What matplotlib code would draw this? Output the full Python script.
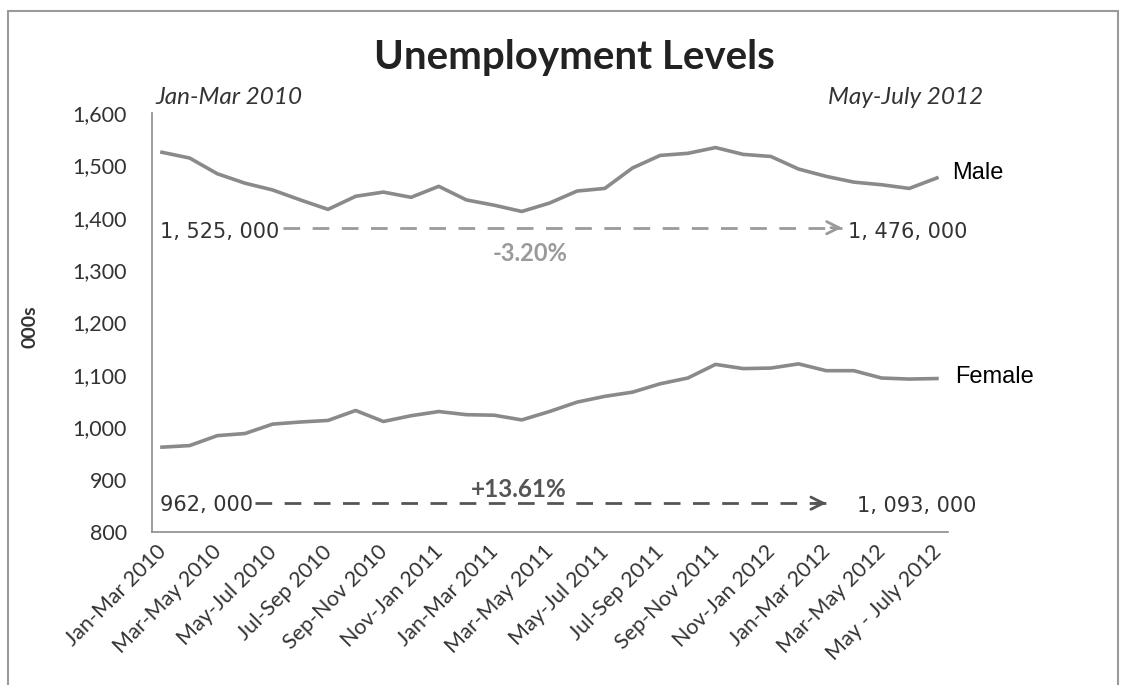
import matplotlib
matplotlib.use("Agg")
import matplotlib.pyplot as plt
import matplotlib.transforms as mtransforms
from matplotlib.patches import Rectangle

# ---------------------------------------------------------------------------
# Data: rolling three-month unemployment levels (thousands)
# ---------------------------------------------------------------------------
periods = [
    "Jan-Mar 2010", "Feb-Apr 2010", "Mar-May 2010", "Apr-Jun 2010",
    "May-Jul 2010", "Jun-Aug 2010", "Jul-Sep 2010", "Aug-Oct 2010",
    "Sep-Nov 2010", "Oct-Dec 2010", "Nov-Jan 2011", "Dec-Feb 2011",
    "Jan-Mar 2011", "Feb-Apr 2011", "Mar-May 2011", "Apr-Jun 2011",
    "May-Jul 2011", "Jun-Aug 2011", "Jul-Sep 2011", "Aug-Oct 2011",
    "Sep-Nov 2011", "Oct-Dec 2011", "Nov-Jan 2012", "Dec-Feb 2012",
    "Jan-Mar 2012", "Feb-Apr 2012", "Mar-May 2012", "Apr-Jun 2012",
    "May - July 2012",
]
male = [1525, 1514, 1484, 1466, 1453, 1434, 1416, 1441, 1449, 1439,
        1460, 1434, 1424, 1412, 1428, 1451, 1456, 1495, 1519, 1523,
        1534, 1521, 1517, 1493, 1479, 1468, 1463, 1456, 1476]
female = [962, 965, 984, 988, 1006, 1010, 1013, 1032, 1011, 1022,
          1030, 1024, 1023, 1014, 1030, 1048, 1059, 1067, 1083, 1094,
          1120, 1112, 1113, 1121, 1108, 1108, 1094, 1092, 1093]
y_ticks = [800, 900, 1000, 1100, 1200, 1300, 1400, 1500, 1600]
male_change_pct = -3.20
female_change_pct = 13.61

FONT = "Lato"
LINE_GREY = "#8a8a8a"
TEXT_DARK = "#333333"

W, H = 1126, 685
fig = plt.figure(figsize=(W / 100, H / 100), dpi=100)
fig.patch.set_facecolor("white")

# outer chart frame
fig.add_artist(Rectangle((8 / W, -0.05), (1118 - 8) / W, 1.05 - 11 / H,
                         transform=fig.transFigure, fill=False,
                         edgecolor="#9a9a9a", linewidth=1.5))

ax = fig.add_axes([152 / W, 1 - 532 / H, (948 - 152) / W, (532 - 113) / H])
x = list(range(len(periods)))

ax.plot(x, male, color=LINE_GREY, linewidth=2.6, solid_joinstyle="round")
ax.plot(x, female, color=LINE_GREY, linewidth=2.6, solid_joinstyle="round")

ax.set_xlim(-0.36, 28.4)
ax.set_ylim(800, 1600)
ax.set_yticks(y_ticks)
ax.set_yticklabels([f"{v:,}" for v in y_ticks], fontsize=15.5,
                   family=FONT, color=TEXT_DARK)
ax.set_xticks(x[::2])
ax.set_xticklabels(periods[::2], rotation=45, ha="right",
                   rotation_mode="anchor", fontsize=15.5,
                   family=FONT, color=TEXT_DARK)
ax.tick_params(axis="both", length=0)
ax.tick_params(axis="y", pad=18)
ax.tick_params(axis="x", pad=7)

# nudge the slanted period labels slightly left of their ticks
shift = mtransforms.ScaledTranslation(-6 / 100, 0, fig.dpi_scale_trans)
for lbl in ax.get_xticklabels():
    lbl.set_transform(lbl.get_transform() + shift)

for side in ("top", "right"):
    ax.spines[side].set_visible(False)
for side in ("left", "bottom"):
    ax.spines[side].set_color("#8c8c8c")
    ax.spines[side].set_linewidth(1.2)

fig.text(30 / W, 1 - 327 / H, "000s", fontsize=14, family=FONT,
         fontweight="bold", color=TEXT_DARK, rotation=90,
         ha="center", va="center")


def change_arrow(x0, x1, y, color):
    ax.plot([x0, x1 - 0.1], [y, y], color=color, linewidth=2.0,
            dashes=(6, 4.5), clip_on=False)
    ax.annotate("", xy=(x1, y), xytext=(x1 - 0.6, y),
                arrowprops=dict(arrowstyle="->", color=color, lw=2.0,
                                mutation_scale=22))


def spaced(value):
    return f"{value * 1000:,}".replace(",", ", ")


# male: start to end comparison
change_arrow(4.37, 24.67, 1381, "#9a9a9a")
ax.text(-0.07, 1373, spaced(male[0]), fontsize=15,
        family="DejaVu Sans", color=TEXT_DARK, va="center")
ax.text(24.8, 1373, spaced(male[-1]), fontsize=15,
        family="DejaVu Sans", color=TEXT_DARK, va="center")
ax.text(13.3, 1331, f"{male_change_pct:.2f}%", fontsize=17, family=FONT,
        fontweight="bold", color="#9a9a9a", ha="center", va="center")

# female: start to end comparison
change_arrow(3.36, 24.1, 855, "#555555")
ax.text(-0.07, 851, spaced(female[0]), fontsize=15,
        family="DejaVu Sans", color=TEXT_DARK, va="center")
ax.text(25.1, 849, spaced(female[-1]), fontsize=15,
        family="DejaVu Sans", color=TEXT_DARK, va="center")
ax.text(12.9, 882, f"+{female_change_pct:.2f}%", fontsize=17.5,
        family=FONT, fontweight="bold", color="#555555",
        ha="center", va="center")

# series names at the line ends
ax.text(28.54, 1486, "Male", fontsize=17, family="Liberation Sans",
        color="black", va="center", clip_on=False)
ax.text(28.65, 1096, "Female", fontsize=17, family="Liberation Sans",
        color="black", va="center", clip_on=False)

# title and period labels
fig.text(574 / W, 1 - 58 / H, "Unemployment Levels", fontsize=29,
         family=FONT, fontweight="bold", color="#222222",
         ha="center", va="center")
fig.text(155 / W, 1 - 98 / H, "Jan-Mar 2010", fontsize=17.5, family=FONT,
         style="italic", color=TEXT_DARK, ha="left", va="center")
fig.text(983 / W, 1 - 98 / H, "May-July 2012", fontsize=17.5, family=FONT,
         style="italic", color=TEXT_DARK, ha="right", va="center")

fig.savefig("out.png", dpi=100)
